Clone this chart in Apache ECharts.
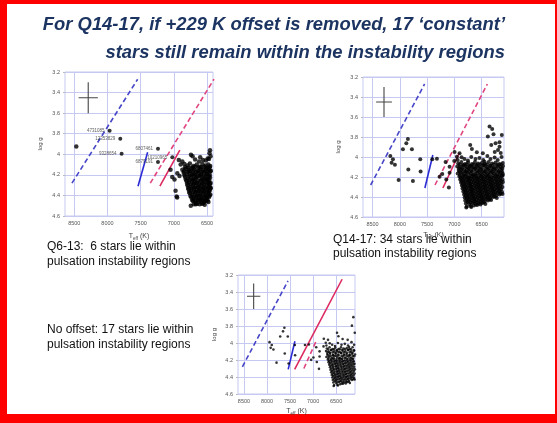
<!DOCTYPE html>
<html>
<head>
<meta charset="utf-8">
<script src="https://cdn.jsdelivr.net/npm/echarts@6/dist/echarts.min.js"></script>
<style>
    html, body { margin: 0; padding: 0; background: #fff; }
    #main { width: 557px; height: 423px; }
</style>
</head>
<body>
<div id="main"></div>
<script>
    // tick values
    const tempTicks = [8500, 8000, 7500, 7000, 6500];
    const offsetK = 229;

    // instability strip edges (Teff, log g)
    const blueEdgeDashed = [[8535, 4.28], [7545, 3.27]];
    const blueEdgeSolid = [[7540, 4.31], [7395, 3.98]];
    const redEdgeDashed = [[7355, 4.28], [6395, 3.27]];
    const redEdgeSolid = [[7210, 4.31], [6910, 3.96]];
    // no offset panel has the red edges swapped in style
    const redEdgeLongNoOffset = [[7400, 4.31], [6370, 3.25]];
    const redEdgeShortNoOffset = [[7200, 4.30], [6920, 3.96]];

    // typical error bar
    const errorT = [[8435, 3.45], [8145, 3.45]];
    const errorG = [[8290, 3.30], [8290, 3.60]];

    // Q6-13 named stars
    const q613Named = [
        ['4731085', 7968, 3.77],
        ['12353829', 7807, 3.85],
        ['9328654', 7787, 3.995],
        ['6807461', 7239, 3.945],
        ['10210965', 7023, 4.03],
        ['6879191', 7239, 4.075]
    ];

    // Q6-13 other stars
    const q613Stars = [
        [8470, 3.925],
        [6455, 3.96], [6462, 3.99], [6447, 4.02], [6470, 4.045], [6742, 4.005], [6718, 4.02], [6603, 4.03],
        [6620, 4.07], [6562, 4.055], [6925, 4.055], [6872, 4.07], [6518, 4.06], [6490, 4.04], [6680, 4.05],
        [6897, 4.10], [7050, 4.15], [7024, 4.22], [6990, 4.245], [6948, 4.185], [6872, 4.15], [6974, 4.355],
        [6958, 4.41], [6950, 4.42], [6915, 4.21],
        [6840, 4.095], [6792, 4.11], [6758, 4.09], [6703, 4.115], [6655, 4.10], [6612, 4.12], [6570, 4.095],
        [6522, 4.11], [6481, 4.10], [6452, 4.115],
        [6830, 4.125], [6780, 4.13], [6720, 4.125], [6675, 4.12], [6630, 4.13], [6585, 4.125], [6540, 4.12],
        [6495, 4.13], [6460, 4.125],
        [6822, 4.14], [6776, 4.155], [6733, 4.135], [6692, 4.15], [6641, 4.16], [6598, 4.14], [6556, 4.155],
        [6511, 4.135], [6471, 4.15], [6444, 4.16],
        [6845, 4.165], [6790, 4.17], [6750, 4.165], [6705, 4.16], [6660, 4.175], [6615, 4.165], [6570, 4.17],
        [6525, 4.16], [6485, 4.17], [6450, 4.165],
        [6852, 4.18], [6801, 4.195], [6762, 4.175], [6714, 4.19], [6678, 4.20], [6632, 4.18], [6586, 4.195],
        [6541, 4.175], [6499, 4.19], [6459, 4.20],
        [6840, 4.205], [6770, 4.21], [6725, 4.205], [6690, 4.20], [6640, 4.215], [6595, 4.205], [6550, 4.21],
        [6510, 4.20], [6470, 4.21],
        [6831, 4.22], [6788, 4.235], [6744, 4.215], [6701, 4.24], [6661, 4.225], [6614, 4.21], [6571, 4.235],
        [6529, 4.22], [6489, 4.24], [6455, 4.225],
        [6820, 4.245], [6760, 4.25], [6715, 4.245], [6675, 4.24], [6630, 4.255], [6585, 4.245], [6545, 4.25],
        [6505, 4.24], [6465, 4.25],
        [6809, 4.26], [6771, 4.275], [6726, 4.255], [6688, 4.27], [6646, 4.28], [6601, 4.26], [6559, 4.275],
        [6521, 4.255], [6476, 4.27], [6446, 4.28],
        [6800, 4.285], [6740, 4.29], [6700, 4.285], [6660, 4.28], [6615, 4.295], [6575, 4.285], [6535, 4.29],
        [6490, 4.28], [6455, 4.29],
        [6794, 4.30], [6751, 4.315], [6709, 4.295], [6671, 4.31], [6629, 4.32], [6591, 4.30], [6546, 4.315],
        [6504, 4.295], [6466, 4.31], [6449, 4.325],
        [6785, 4.325], [6730, 4.33], [6690, 4.325], [6640, 4.32], [6600, 4.335], [6560, 4.325], [6520, 4.33],
        [6480, 4.32], [6445, 4.33],
        [6779, 4.34], [6740, 4.355], [6699, 4.335], [6656, 4.35], [6616, 4.36], [6574, 4.34], [6536, 4.355],
        [6494, 4.335], [6460, 4.35],
        [6770, 4.365], [6710, 4.37], [6670, 4.365], [6630, 4.36], [6590, 4.375], [6550, 4.365], [6505, 4.37],
        [6470, 4.36],
        [6761, 4.38], [6721, 4.395], [6681, 4.375], [6641, 4.39], [6599, 4.40], [6561, 4.38], [6519, 4.395],
        [6481, 4.375], [6451, 4.39],
        [6750, 4.405], [6700, 4.41], [6660, 4.405], [6620, 4.40], [6575, 4.415], [6530, 4.405], [6495, 4.41],
        [6460, 4.40],
        [6736, 4.42], [6699, 4.435], [6661, 4.415], [6619, 4.43], [6584, 4.44], [6546, 4.42], [6506, 4.435],
        [6469, 4.415],
        [6725, 4.445], [6680, 4.45], [6640, 4.445], [6600, 4.44], [6565, 4.455], [6525, 4.445], [6490, 4.45],
        [6711, 4.455], [6671, 4.47], [6632, 4.45], [6594, 4.465], [6556, 4.475], [6516, 4.455], [6479, 4.465],
        [6700, 4.485], [6650, 4.48], [6610, 4.485], [6575, 4.48], [6535, 4.49],
        [6745, 4.50], [6668, 4.485], [6543, 4.46]
    ];

    // Q14-17 stars (with the +229 K offset)
    const q1417Stars = [
        [7852, 3.82], [7881, 3.863], [7943, 3.923], [7778, 3.923], [8174, 3.99], [8126, 4.023], [8150, 4.057],
        [8090, 4.077], [7625, 4.023], [7844, 4.124], [7619, 4.144], [8022, 4.231], [7760, 4.241],
        [7405, 4.023], [7320, 4.017], [7161, 4.05], [7002, 4.04], [7088, 4.098], [6905, 3.963], [6868, 4.003],
        [7222, 4.171], [7088, 4.158], [7148, 4.224], [7101, 4.304], [7271, 4.198], [6996, 3.95], [6954, 3.997],
        [6709, 3.88], [6679, 3.92], [6588, 3.953], [6478, 3.963], [6447, 4.047],
        [6355, 3.696], [6306, 3.72], [6282, 3.772], [6245, 3.863], [6172, 3.853], [6386, 3.796], [6324, 3.88],
        [6172, 3.897], [6130, 3.78], [6200, 3.93], [6150, 3.96], [6260, 3.95],
        [6940, 4.03], [6815, 4.02], [6752, 4.035], [6690, 4.00], [6612, 4.02], [6540, 4.01], [6470, 4.03],
        [6395, 3.99], [6338, 4.02], [6262, 4.005], [6205, 4.03], [6135, 4.0],
        [6930, 4.065], [6872, 4.05], [6805, 4.07], [6748, 4.055], [6677, 4.07], [6623, 4.05], [6566, 4.065],
        [6498, 4.06], [6436, 4.07], [6371, 4.05], [6309, 4.065], [6243, 4.055], [6176, 4.07], [6112, 4.06],
        [6900, 4.075], [6838, 4.08], [6776, 4.075], [6716, 4.085], [6650, 4.075], [6594, 4.08], [6531, 4.075],
        [6466, 4.08], [6404, 4.075], [6341, 4.085], [6277, 4.075], [6209, 4.08], [6146, 4.075],
        [6948, 4.095], [6889, 4.10], [6834, 4.085], [6771, 4.10], [6712, 4.09], [6651, 4.105], [6588, 4.09],
        [6529, 4.10], [6467, 4.085], [6402, 4.10], [6343, 4.09], [6281, 4.105], [6219, 4.09], [6151, 4.10],
        [6108, 4.09],
        [6914, 4.11], [6858, 4.115], [6801, 4.11], [6738, 4.115], [6681, 4.105], [6619, 4.115], [6558, 4.11],
        [6497, 4.115], [6433, 4.11], [6371, 4.115], [6309, 4.11], [6248, 4.115], [6186, 4.11], [6124, 4.115],
        [6921, 4.13], [6862, 4.125], [6799, 4.14], [6742, 4.125], [6686, 4.135], [6621, 4.12], [6561, 4.135],
        [6502, 4.13], [6441, 4.14], [6384, 4.125], [6318, 4.135], [6258, 4.125], [6196, 4.14], [6134, 4.13],
        [6909, 4.145], [6851, 4.15], [6793, 4.145], [6734, 4.15], [6676, 4.145], [6611, 4.15], [6549, 4.145],
        [6491, 4.15], [6428, 4.145], [6366, 4.15], [6304, 4.145], [6244, 4.15], [6183, 4.145], [6124, 4.15],
        [6939, 4.165], [6881, 4.16], [6823, 4.17], [6766, 4.155], [6702, 4.165], [6644, 4.175], [6583, 4.16],
        [6521, 4.17], [6458, 4.16], [6398, 4.17], [6337, 4.155], [6277, 4.165], [6214, 4.175], [6157, 4.16],
        [6111, 4.17],
        [6896, 4.18], [6834, 4.185], [6781, 4.18], [6719, 4.185], [6661, 4.18], [6599, 4.185], [6541, 4.18],
        [6479, 4.185], [6421, 4.18], [6359, 4.185], [6301, 4.18], [6236, 4.185], [6174, 4.18], [6116, 4.185],
        [6908, 4.195], [6846, 4.20], [6787, 4.19], [6729, 4.205], [6672, 4.195], [6612, 4.19], [6553, 4.205],
        [6494, 4.195], [6432, 4.20], [6376, 4.19], [6314, 4.205], [6252, 4.195], [6188, 4.20], [6129, 4.19],
        [6881, 4.21], [6821, 4.215], [6759, 4.21], [6706, 4.215], [6644, 4.21], [6586, 4.215], [6524, 4.21],
        [6466, 4.215], [6404, 4.21], [6346, 4.215], [6284, 4.21], [6221, 4.215], [6159, 4.21],
        [6893, 4.225], [6836, 4.23], [6777, 4.22], [6718, 4.235], [6659, 4.225], [6598, 4.22], [6541, 4.235],
        [6482, 4.225], [6423, 4.23], [6361, 4.22], [6303, 4.235], [6239, 4.225], [6177, 4.23], [6118, 4.225],
        [6866, 4.24], [6804, 4.245], [6746, 4.24], [6689, 4.245], [6631, 4.24], [6569, 4.245], [6511, 4.24],
        [6449, 4.245], [6391, 4.24], [6329, 4.245], [6271, 4.24], [6204, 4.245], [6146, 4.24],
        [6878, 4.255], [6818, 4.26], [6761, 4.25], [6703, 4.265], [6644, 4.255], [6586, 4.25], [6527, 4.265],
        [6468, 4.255], [6409, 4.26], [6352, 4.25], [6289, 4.265], [6229, 4.255], [6168, 4.26], [6110, 4.25],
        [6849, 4.27], [6791, 4.275], [6729, 4.27], [6676, 4.275], [6614, 4.27], [6556, 4.275], [6494, 4.27],
        [6436, 4.275], [6374, 4.27], [6316, 4.275], [6254, 4.27], [6196, 4.275], [6134, 4.27],
        [6862, 4.285], [6801, 4.29], [6742, 4.28], [6688, 4.295], [6627, 4.285], [6571, 4.28], [6511, 4.295],
        [6452, 4.285], [6396, 4.29], [6336, 4.28], [6276, 4.295], [6216, 4.285], [6156, 4.29],
        [6834, 4.30], [6776, 4.305], [6714, 4.30], [6661, 4.305], [6599, 4.30], [6541, 4.305], [6479, 4.30],
        [6421, 4.305], [6359, 4.30], [6301, 4.305], [6239, 4.30], [6181, 4.305], [6119, 4.30],
        [6851, 4.315], [6792, 4.32], [6733, 4.31], [6672, 4.325], [6617, 4.315], [6556, 4.31], [6497, 4.325],
        [6441, 4.315], [6381, 4.32], [6322, 4.31], [6262, 4.325], [6201, 4.315], [6141, 4.32],
        [6819, 4.33], [6761, 4.335], [6699, 4.33], [6646, 4.335], [6584, 4.33], [6526, 4.335], [6464, 4.33],
        [6406, 4.335], [6344, 4.33], [6286, 4.335], [6224, 4.33], [6166, 4.335],
        [6836, 4.345], [6777, 4.35], [6716, 4.34], [6661, 4.355], [6602, 4.345], [6542, 4.34], [6486, 4.355],
        [6426, 4.345], [6366, 4.35], [6307, 4.34], [6247, 4.355], [6186, 4.345], [6126, 4.35],
        [6804, 4.36], [6746, 4.365], [6689, 4.36], [6631, 4.365], [6569, 4.36], [6511, 4.365], [6449, 4.36],
        [6391, 4.365], [6329, 4.36], [6271, 4.365], [6209, 4.36], [6151, 4.365],
        [6822, 4.375], [6762, 4.38], [6706, 4.37], [6646, 4.385], [6587, 4.375], [6531, 4.37], [6472, 4.385],
        [6411, 4.375], [6352, 4.38], [6292, 4.37], [6232, 4.385], [6172, 4.375], [6117, 4.37],
        [6789, 4.39], [6731, 4.395], [6674, 4.39], [6616, 4.395], [6554, 4.39], [6496, 4.395], [6434, 4.39],
        [6376, 4.395], [6314, 4.39], [6256, 4.395],
        [6811, 4.405], [6751, 4.41], [6691, 4.40], [6632, 4.415], [6576, 4.405], [6516, 4.40], [6457, 4.415],
        [6401, 4.405], [6341, 4.41], [6281, 4.40], [6222, 4.41],
        [6774, 4.42], [6716, 4.425], [6654, 4.42], [6596, 4.425], [6534, 4.42], [6476, 4.425], [6414, 4.42],
        [6356, 4.425],
        [6801, 4.435], [6737, 4.44], [6681, 4.43], [6621, 4.445], [6561, 4.435], [6502, 4.43], [6446, 4.445],
        [6386, 4.435], [6326, 4.43],
        [6759, 4.45], [6701, 4.455], [6639, 4.45], [6581, 4.455], [6519, 4.45], [6461, 4.455],
        [6789, 4.465], [6726, 4.47], [6666, 4.46], [6606, 4.475], [6551, 4.465], [6491, 4.46], [6431, 4.47],
        [6771, 4.495], [6701, 4.49], [6641, 4.485], [6582, 4.48], [6521, 4.475],
        [6782, 4.505], [6690, 4.5]
    ];

    // same stars once the +229 K offset is removed
    const noOffsetStars = q1417Stars.map(function (p) { return [p[0] - offsetK, p[1]]; });

    const gridColor = '#c6c9f1';
    const labelColor = '#555';
    const font = '"Liberation Sans", Arial, sans-serif';

    let chart = echarts.init(document.getElementById('main'));

    function xAxisFor(idx, min, max, gap) {
        return {
            gridIndex: idx, type: 'value', inverse: true, min: min, max: max,
            axisLine: {show: false},
            axisTick: {show: false, customValues: tempTicks},
            axisLabel: {
                customValues: tempTicks, fontSize: 5.5, color: labelColor, margin: 4, fontFamily: font,
                formatter: function (v) { return String(v); }
            },
            splitLine: {show: true, lineStyle: {color: gridColor, width: 1}},
            name: 'T{s|eff} (K)',
            nameLocation: 'middle',
            nameGap: gap,
            nameTextStyle: {
                fontSize: 7, color: '#444', fontFamily: font,
                rich: {s: {fontSize: 4.5, color: '#444', padding: [5, 0, 0, 0]}}
            }
        };
    }

    function yAxisFor(idx, gap) {
        return {
            gridIndex: idx, type: 'value', inverse: true, min: 3.2, max: 4.6, interval: 0.2,
            axisLine: {show: false},
            axisTick: {show: true, length: 2, lineStyle: {color: '#bbb'}},
            axisLabel: {fontSize: 5.5, color: labelColor, margin: 5, fontFamily: font},
            splitLine: {show: true, lineStyle: {color: gridColor, width: 1}},
            name: 'log g',
            nameLocation: 'middle',
            nameGap: gap,
            nameRotate: 90,
            nameTextStyle: {fontSize: 6, color: '#444', fontFamily: font}
        };
    }

    function edge(idx, data, color, dashed) {
        return {
            type: 'line', xAxisIndex: idx, yAxisIndex: idx, data: data,
            symbol: 'none', silent: true, z: 3,
            lineStyle: {color: color, width: 1.6, type: dashed ? [5, 3] : 'solid'}
        };
    }

    function cross(idx) {
        return [errorT, errorG].map(function (d) {
            return {
                type: 'line', xAxisIndex: idx, yAxisIndex: idx, data: d,
                symbol: 'none', silent: true,
                lineStyle: {color: '#444', width: 1.1}
            };
        });
    }

    function stars(idx, data, size) {
        return {
            type: 'scatter', xAxisIndex: idx, yAxisIndex: idx, data: data,
            symbolSize: size, silent: true, z: 4,
            itemStyle: {color: '#000'}
        };
    }

    function textLine(x, y, text) {
        return {
            type: 'text', x: x, y: y,
            style: {text: text, font: '12px ' + font, fill: '#111', verticalAlign: 'middle'}
        };
    }

    function titleLine(y, text) {
        return {
            type: 'text', x: 505, y: y,
            style: {text: text, font: 'italic bold 18.4px ' + font, fill: '#1c3461', align: 'right', verticalAlign: 'middle'}
        };
    }

    let series = [];
    // Q6-13
    series.push(edge(0, blueEdgeDashed, '#4646c8', true));
    series.push(edge(0, blueEdgeSolid, '#2b2bd6', false));
    series.push(edge(0, redEdgeDashed, '#e0457f', true));
    series.push(edge(0, redEdgeSolid, '#dc2a60', false));
    series = series.concat(cross(0));
    series.push(stars(0, q613Stars, 4.5));
    series.push({
        type: 'scatter', xAxisIndex: 0, yAxisIndex: 0, symbolSize: 4, silent: true, z: 4,
        itemStyle: {color: '#000'},
        data: q613Named.map(function (s) { return {name: s[0], value: [s[1], s[2]]}; }),
        label: {show: true, formatter: '{b}', position: 'left', distance: 3, fontSize: 4.5, color: '#333', fontFamily: font}
    });
    // Q14-17
    series.push(edge(1, blueEdgeDashed, '#4646c8', true));
    series.push(edge(1, blueEdgeSolid, '#2b2bd6', false));
    series.push(edge(1, redEdgeDashed, '#e0457f', true));
    series.push(edge(1, redEdgeSolid, '#dc2a60', false));
    series = series.concat(cross(1));
    series.push(stars(1, q1417Stars, 4));
    // no offset
    series.push(edge(2, blueEdgeDashed, '#4646c8', true));
    series.push(edge(2, blueEdgeSolid, '#2b2bd6', false));
    series.push(edge(2, redEdgeLongNoOffset, '#dc2a60', false));
    series.push(edge(2, redEdgeShortNoOffset, '#e0457f', true));
    series = series.concat(cross(2));
    series.push(stars(2, noOffsetStars, 2.6));

    chart.setOption({
        animation: false,
        backgroundColor: '#fff',
        grid: [
            {left: 65, top: 72, width: 148, height: 144, show: true, borderColor: gridColor, borderWidth: 1},
            {left: 363, top: 77, width: 141, height: 140, show: true, borderColor: gridColor, borderWidth: 1},
            {left: 238, top: 275, width: 117, height: 119, show: true, borderColor: gridColor, borderWidth: 1}
        ],
        xAxis: [
            xAxisFor(0, 6410, 8640, 15),
            xAxisFor(1, 6090, 8675, 13),
            xAxisFor(2, 6090, 8630, 12)
        ],
        yAxis: [
            yAxisFor(0, 22),
            yAxisFor(1, 22),
            yAxisFor(2, 21)
        ],
        series: series,
        graphic: [
            titleLine(25, 'For Q14-17, if +229 K offset is removed, 17 \u2018constant\u2019'),
            titleLine(53, 'stars still remain within the instability regions'),
            textLine(47, 247, 'Q6-13:  6 stars lie within'),
            textLine(47, 262, 'pulsation instability regions'),
            textLine(333, 240, 'Q14-17: 34 stars lie within'),
            textLine(333, 254, 'pulsation instability regions'),
            textLine(47, 330, 'No offset: 17 stars lie within'),
            textLine(47, 345, 'pulsation instability regions'),
            // red slide frame
            {type: 'rect', shape: {x: 0, y: 0, width: 7, height: 423}, style: {fill: '#ff0000'}},
            {type: 'rect', shape: {x: 0, y: 0, width: 557, height: 4}, style: {fill: '#ff0000'}},
            {type: 'rect', shape: {x: 555, y: 0, width: 2, height: 423}, style: {fill: '#ff0000'}},
            {type: 'rect', shape: {x: 0, y: 414, width: 557, height: 9}, style: {fill: '#ff0000'}}
        ]
    });

    window.addEventListener('resize', function () {
        chart.resize();
    });
</script>
</body>
</html>
